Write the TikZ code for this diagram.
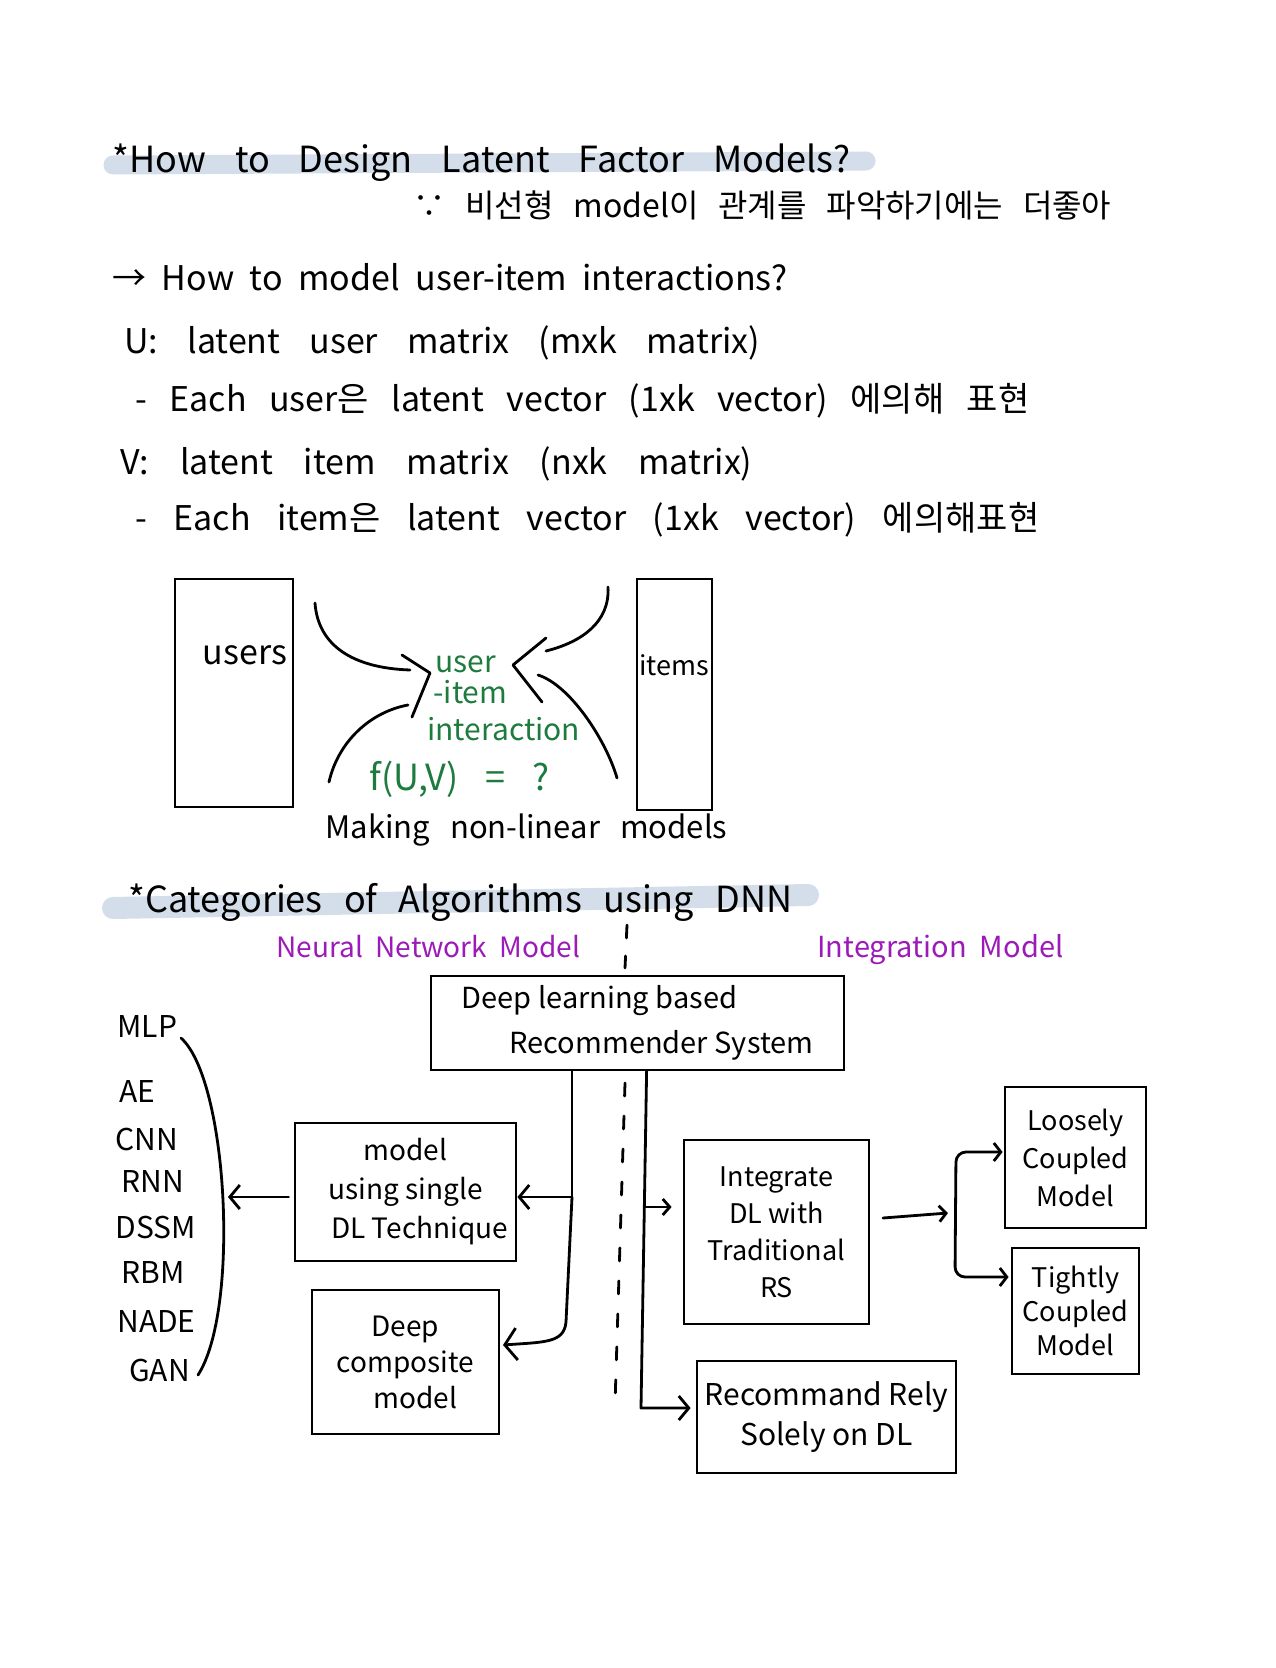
\documentclass[tikz,border=0pt]{standalone}
\usepackage{fontspec}
\setmainfont{Noto Sans CJK KR}
\usetikzlibrary{arrows.meta,calc}
\definecolor{hl}{HTML}{D3DEEA}
\definecolor{grn}{HTML}{1E7B3E}
\definecolor{prp}{HTML}{9C1BB8}
\newcommand\myfs[2]{\fontsize{#1pt}{#2pt}\selectfont}
\newcommand\myspread[2]{\makebox[#1][s]{#2}}
\begin{document}
\begin{tikzpicture}[x=0.5pt,y=-0.5pt,
  ink/.style={line width=1.4pt,line cap=round,line join=round},
  boxnode/.style={draw,line width=1.4pt,inner sep=0pt,align=center},
  txt/.style={anchor=base west,inner sep=0pt},
  barbL/.style={-{Straight Barb[length=6pt,width=16pt]}},
  barbM/.style={-{Straight Barb[length=5pt,width=12pt]}},
  barbS/.style={-{Straight Barb[length=3.5pt,width=8pt]}},
  hlbar/.style={hl,line cap=round},
]
\useasboundingbox[fill=white] (0,0) rectangle (1275,1668);

% highlight bars
\draw[hlbar,line width=9.5pt] (113,165) -- (866,161);
\draw[hlbar,line width=11pt] (113,908) -- (808,895);

% section 1 text
\node[txt] (h1) at (112,173) {\myfs{18}{18}\myspread{369pt}{*How to Design Latent Factor Models?}};
\node[txt] (k1) at (413,218) {\myfs{16}{16}\myspread{349pt}{∵ 비선형 model이 관계를 파악하기에는 더좋아}};
\node[txt] (q1) at (112,291) {\myfs{17}{17}\myspread{337.5pt}{→ How to model user-item interactions?}};
\node[txt] (u1) at (124,354) {\myfs{17}{17}\myspread{318pt}{U: latent user matrix (mxk matrix)}};
\node[txt] (u2) at (135,412) {\myfs{17}{17}\myspread{447pt}{- Each user은 latent vector (1xk vector) 에의해 표현}};
\node[txt] (v1) at (120,474) {\myfs{17}{17}\myspread{316pt}{V: latent item matrix (nxk matrix)}};
\node[txt] (v2) at (135,530) {\myfs{17}{17}\myspread{452pt}{- Each item은 latent vector (1xk vector) 에의해표현}};

% users / items
\node[boxnode,minimum width=59pt,minimum height=114pt] (users) at (234,693) {};
\node[inner sep=0pt,font=\myfs{17}{17}] (userst) at (245,655) {users};
\node[boxnode,minimum width=37.5pt,minimum height=115.5pt] (items) at (674.5,694.5) {};
\node[inner sep=0pt,font=\myfs{13.5}{13.5}] (itemst) at (674,665) {items};

% green text
\node[txt,text=grn,font=\myfs{15}{15}] (g1) at (435,672) {user};
\node[txt,text=grn,font=\myfs{15}{15}] (g2) at (433,703) {-item};
\node[txt,text=grn,font=\myfs{15}{15}] (g3) at (427,740) {interaction};
\node[txt,text=grn,font=\myfs{18}{18}] (g4) at (369,790) {\myspread{90pt}{f(U,V) = ?}};
\node[txt,font=\myfs{15.5}{15.5}] (mk) at (325,838) {\myspread{201pt}{Making non-linear models}};

% converging curves
\coordinate (la) at (315,603); \coordinate (lb) at (410,670);
\draw[ink] (la) .. controls (318,645) and (352,668) .. (lb);
\coordinate (lt1) at (402,655); \coordinate (lt2) at (430,673); \coordinate (lt3) at (412,717);
\draw[ink] (lt1) -- (lt2) -- (lt3);
\coordinate (lc) at (329,782); \coordinate (ld) at (408,705);
\draw[ink] (lc) .. controls (338,742) and (370,712) .. (ld);
\coordinate (ra) at (608,587); \coordinate (rb) at (546,651);
\draw[ink] (ra) .. controls (610,622) and (582,642) .. (rb);
\coordinate (rt1) at (546,638); \coordinate (rt2) at (513,665); \coordinate (rt3) at (542,702);
\draw[ink] (rt1) -- (rt2) -- (rt3);
\coordinate (rc) at (538,675); \coordinate (rd) at (617,778);
\draw[ink] (rc) .. controls (570,685) and (606,740) .. (rd);

% section 2
\node[txt] (h2) at (128,912) {\myfs{18}{18}\myspread{332pt}{*Categories of Algorithms using DNN}};
\node[txt,text=prp] (nn) at (276,957) {\myfs{14}{14}\myspread{152pt}{Neural Network Model}};
\node[txt,text=prp] (im) at (817,957) {\myfs{14.5}{14.5}\myspread{123pt}{Integration Model}};

\coordinate (d1) at (627,925); \coordinate (d2) at (625,968);
\draw[ink,dash pattern=on 6.5pt off 9pt] (d1) -- (d2);
\coordinate (d3) at (625,1083); \coordinate (d4) at (615,1404);
\draw[ink,dash pattern=on 6.5pt off 10pt] (d3) -- (d4);

% boxes
\node[boxnode,minimum width=206.5pt,minimum height=47pt,align=left,font=\myfs{14.5}{22.5}] (dlrs) at (637.5,1023) {Deep learning based\\\hspace*{24pt}Recommender System};
\node[boxnode,minimum width=110.5pt,minimum height=69pt,font=\myfs{14}{19.5}] (single) at (405.5,1192) {model\\using single\\\hspace*{14pt}DL Technique};
\node[boxnode,minimum width=93.5pt,minimum height=72pt,font=\myfs{14}{18}] (comp) at (405.5,1362) {Deep\\composite\\\hspace*{10pt}model};
\node[boxnode,minimum width=92.5pt,minimum height=92pt,font=\myfs{13.5}{18.5}] (integ) at (776.5,1232) {Integrate\\DL with\\Traditional\\RS};
\node[boxnode,minimum width=129.5pt,minimum height=56pt,font=\myfs{15}{20}] (rec) at (826.5,1417) {Recommand Rely\\Solely on DL};
\node[boxnode,minimum width=70.5pt,minimum height=70.5pt,font=\myfs{13.5}{19}] (loose) at (1075.5,1157.5) {Loosely\\Coupled\\Model};
\node[boxnode,minimum width=63.5pt,minimum height=63pt,font=\myfs{13.5}{17}] (tight) at (1075.5,1311) {Tightly\\Coupled\\Model};

% list
\foreach \n/\t/\x/\y in {l1/MLP/117/1026,l2/AE/119/1091,l3/CNN/115/1139,l4/RNN/121/1181,l5/DSSM/115/1227,l6/RBM/121/1272,l7/NADE/117/1321,l8/GAN/129/1370}
  \node[anchor=west,inner sep=0pt,font=\myfs{15}{15}] (\n) at (\x,\y) {\t};

% bracket
\coordinate (bt) at (181,1038); \coordinate (bb) at (198,1375);
\draw[ink] (bt) .. controls (228,1080) and (240,1310) .. (bb);

% left trunk
\coordinate (jL) at (572,1197);
\coordinate (jLb) at (566,1322);
\coordinate (compIn) at (503,1345);
\draw[ink,barbM] (jL |- dlrs.south) -- (jL) -- (single.east |- jL);
\draw[ink,barbL] (jL) -- (jLb) .. controls (564,1343) and (545,1342) .. (compIn);
\coordinate (brk) at (228,1197);
\draw[ink,barbM] ([xshift=-2.5pt]single.west |- jL) -- (brk);

% right trunk
\coordinate (jRt) at ($(dlrs.south west)+(217,0)$);
\coordinate (jR) at (645,1207);
\coordinate (jRb) at (641,1408);
\draw[ink,barbM] (jRt) -- (jRb) -- ([xshift=-2.5pt]rec.west |- jRb);
\draw[ink,barbS] (jR) -- ([xshift=-5.5pt]integ.west |- jR);

% integration branch
\coordinate (vj) at (948,1213);
\coordinate (iOut) at (883,1218);
\draw[ink,barbS] (iOut) -- (vj);
\coordinate (vt) at (956,1152); \coordinate (vb) at (955,1277);
\draw[ink,rounded corners=5pt,{Straight Barb[length=3.5pt,width=9pt]}-{Straight Barb[length=3.5pt,width=9pt]}]
  ([xshift=-0.5pt]loose.west |- vt) -- (vt) -- (vb) -- ([xshift=-1pt]tight.west |- vb);
\end{tikzpicture}
\end{document}
